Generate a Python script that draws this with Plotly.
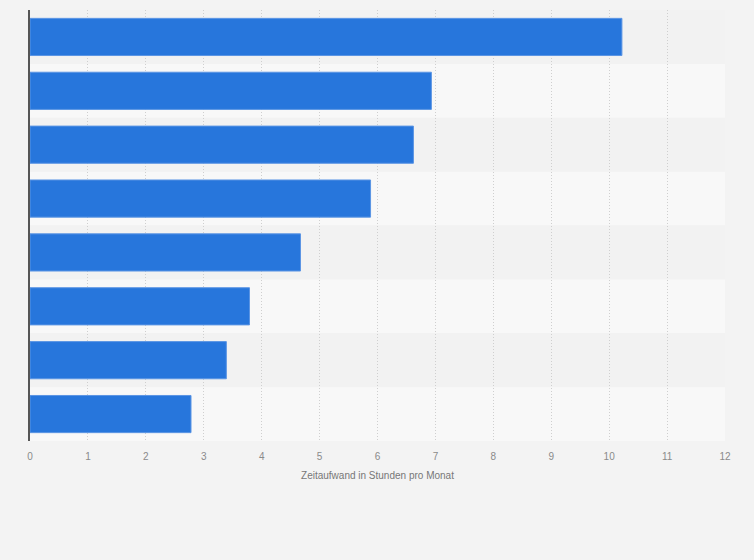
import plotly.graph_objects as go

categories = ["Kategorie 1", "Kategorie 2", "Kategorie 3", "Kategorie 4",
              "Kategorie 5", "Kategorie 6", "Kategorie 7", "Kategorie 8"]
values = [10.22, 6.93, 6.62, 5.88, 4.67, 3.79, 3.39, 2.78]
x_ticks = list(range(0, 13))
x_title = "Zeitaufwand in Stunden pro Monat"

fig = go.Figure()
fig.add_trace(go.Bar(
    x=values, y=categories, orientation="h",
    marker=dict(color="#2776dc", line=dict(color="#5b95e4", width=1)),
    width=0.69, hoverinfo="x+y",
))

shapes = []
for i, c in enumerate(categories):
    shapes.append(dict(
        type="rect", xref="paper", yref="y", layer="below",
        x0=0, x1=1, y0=i - 0.5, y1=i + 0.5,
        fillcolor="#f2f2f2" if i % 2 == 0 else "#f8f8f8", line=dict(width=0),
    ))

fig.update_layout(
    width=754, height=560,
    margin=dict(l=30, r=29, t=10, b=119),
    paper_bgcolor="#f3f3f3", plot_bgcolor="#f3f3f3",
    shapes=shapes, showlegend=False, bargap=0.31,
    font=dict(family="Liberation Sans, Arial, sans-serif", size=10, color="#666666"),
)
fig.update_xaxes(
    range=[0, 12], tickvals=x_ticks, ticktext=[str(t) for t in x_ticks],
    showgrid=True, gridcolor="#cfcfcf", griddash="1px,2px", gridwidth=1,
    zeroline=False, showline=False, ticks="", ticklabelstandoff=8,
    tickfont=dict(size=10, color="#8a8a8a"),
    title=dict(text=x_title, font=dict(size=10, color="#777777"), standoff=10),
)
fig.update_yaxes(
    autorange="reversed", showticklabels=False, showgrid=False,
    showline=True, linecolor="#555555", linewidth=1.5, ticks="",
    zeroline=False,
)

fig.write_html(
    "out.html",
    config={"displayModeBar": False},
    post_script="document.body.style.margin='0';document.body.style.background='#f3f3f3';",
)
